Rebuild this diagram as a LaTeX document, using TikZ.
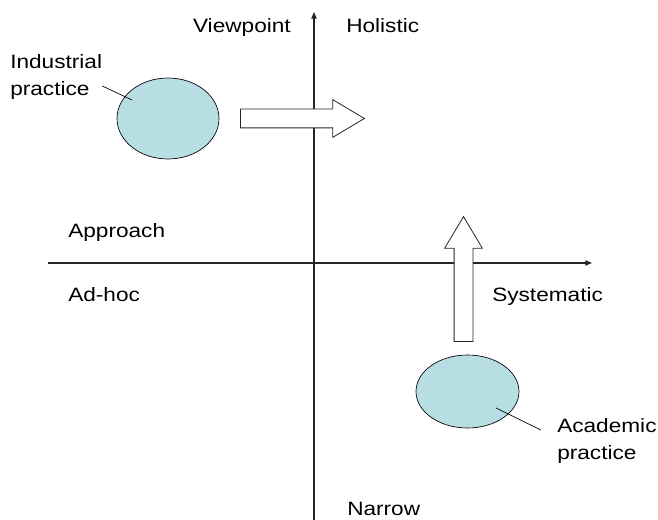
\documentclass[tikz,border=0pt]{standalone}
\usepackage{fontspec}
\setmainfont{Liberation Sans}[FakeStretch=1.17]
\usetikzlibrary{calc}
\usetikzlibrary{arrows.meta}
\usetikzlibrary{shapes.arrows}
\usetikzlibrary{shapes.geometric}
\usetikzlibrary{positioning}
\definecolor{practicefill}{RGB}{183,222,227}

\begin{document}
\begin{tikzpicture}[x=0.75pt,y=-0.75pt]
  % some styles
  \tikzset{
    axis/.style={
      draw=black!85,
      line width=0.8pt,
      -{Triangle[length=5pt,width=4pt]}
    },
    practice/.style={
      ellipse,
      draw=black,
      fill=practicefill,
      line width=0.5pt,
      inner sep=0pt
    },
    blockarrow/.style={
      single arrow,
      single arrow head extend=7.125pt,
      single arrow tip angle=61.6,
      inner xsep=0pt,
      inner ysep=6.75pt,
      draw=black!85,
      fill=white,
      line width=0.6pt,
      anchor=tail
    },
    caption/.style={font=\fontsize{14.5}{20.25}\selectfont,inner sep=0pt},
    pin/.style={draw=black,line width=0.5pt}
  }
 \useasboundingbox (0,0) rectangle (658,520);

 % the two axes
 \coordinate (south) at (314,520);
 \coordinate (north) at (314,12);
 \coordinate (west) at (48,263);
 \coordinate (east) at (592,263);
 \draw[axis] (south) -- (north);
 \draw[axis] (west) -- (east);

 % axis texts
 \node[caption,anchor=base east] (viewpoint) at (291,33) {Viewpoint};
 \node[caption,anchor=base west] (holistic) at (346,33) {Holistic};
 \node[caption,anchor=base west] (narrow) at (347,516) {Narrow};
 \node[caption,anchor=base west] (approach) at (68,238) {Approach};
 \node[caption,anchor=base west] (adhoc) at (68,302) {Ad-hoc};
 \node[caption,anchor=base west] (systematic) at (492,302) {Systematic};

 % the two practices
 \node[practice,minimum width=76.5pt,minimum height=60.75pt] (industrial) at (168,118.5) {};
 \node[practice,minimum width=77.25pt,minimum height=54.75pt] (academic) at (467.5,391.5) {};

 \node[caption,align=left,anchor=west] (indlabel) at (10,77) {Industrial\\practice};
 \node[caption,align=left,anchor=west] (acalabel) at (557,441) {Academic\\practice};

 \coordinate (indpin) at (132,100);
 \coordinate (acapin) at (496,408);
 \draw[pin] ($(indlabel.east)+(0,9)$) -- (indpin);
 \draw[pin] ($(acalabel.west)+(-16,-11)$) -- (acapin);

 % moves
 \node[blockarrow,minimum height=93pt] (toright) at (240,118.5) {};
 \node[blockarrow,minimum height=93.75pt,rotate=90] (toup) at (463.5,342) {};

\end{tikzpicture}
\end{document}
